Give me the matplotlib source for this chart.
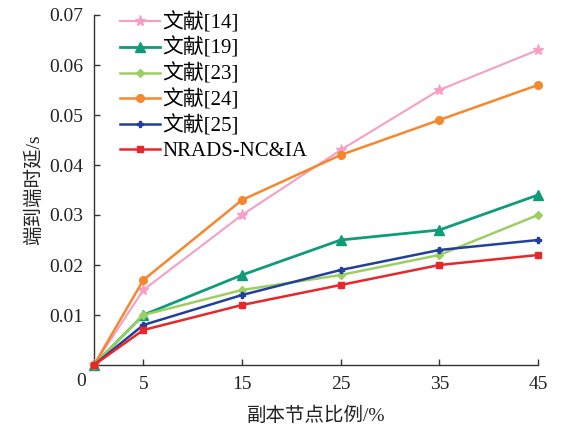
import matplotlib
matplotlib.use("Agg")
import matplotlib.pyplot as plt

x = [0, 5, 15, 25, 35, 45]
labels = ["文献[14]", "文献[19]", "文献[23]", "文献[24]", "文献[25]", "NRADS-NC&IA"]
s14 = [0, 0.015, 0.030, 0.043, 0.055, 0.063]
s19 = [0, 0.010, 0.018, 0.025, 0.027, 0.034]
s23 = [0, 0.010, 0.015, 0.018, 0.022, 0.030]
s24 = [0, 0.017, 0.033, 0.042, 0.049, 0.056]
s25 = [0, 0.008, 0.014, 0.019, 0.023, 0.025]
snr = [0, 0.007, 0.012, 0.016, 0.020, 0.022]
xticks = [5, 15, 25, 35, 45]
yticks = [0.01, 0.02, 0.03, 0.04, 0.05, 0.06, 0.07]

plt.rcParams['font.family'] = ['Liberation Serif', 'Noto Sans CJK SC']

fig = plt.figure(figsize=(5.68, 4.29), dpi=100)
ax = fig.add_axes([94/568, 1-365/429, 444/568, 350/429])

styles = [
    (s14, '#f59fc6', '*', 8, 1.5),
    (s19, '#0f9c78', '^', 7, 2.0),
    (s23, '#9ccf62', 'D', 4.5, 1.8),
    (s24, '#f5882e', 'o', 5.5, 1.8),
    (s25, '#22409a', 'P', 5, 1.8),
    (snr, '#e8272b', 's', 5, 1.8),
]
for (ys, c, m, ms, lw), lab in zip(styles, labels):
    ax.plot(x, ys, color=c, marker=m, markersize=ms, linewidth=lw, label=lab,
            clip_on=False, zorder=3)

ax.set_xlim(0, 45)
ax.set_ylim(0, 0.07)
ax.set_xticks(xticks)
ax.set_xticklabels([str(v) for v in xticks])
ax.set_yticks(yticks)
ax.set_yticklabels([f"{v:.2f}" for v in yticks])
ax.tick_params(direction='in', labelsize=14, length=4, width=1, colors='#333333',
               labelcolor='#222222')
ax.tick_params(axis='x', pad=8)
ax.tick_params(axis='y', pad=8)
for sp in ['top', 'right']:
    ax.spines[sp].set_visible(False)
for sp in ['left', 'bottom']:
    ax.spines[sp].set_linewidth(1.0)
    ax.spines[sp].set_color('#333333')

ax.text(-0.8, -0.0017, "0", fontsize=14, ha='right', va='top', color='#222222')

ax.set_xlabel("副本节点比例/%", fontsize=14, labelpad=10, color='#222222')
ax.set_ylabel("端到端时延/s", fontsize=14, labelpad=4, color='#222222')

leg = ax.legend(loc='upper left', bbox_to_anchor=(0.03, 1.045), frameon=False,
                fontsize=15, handlelength=1.95, handletextpad=0.1,
                labelspacing=0.22, borderaxespad=0.2)

fig.savefig("out.png", dpi=100)
